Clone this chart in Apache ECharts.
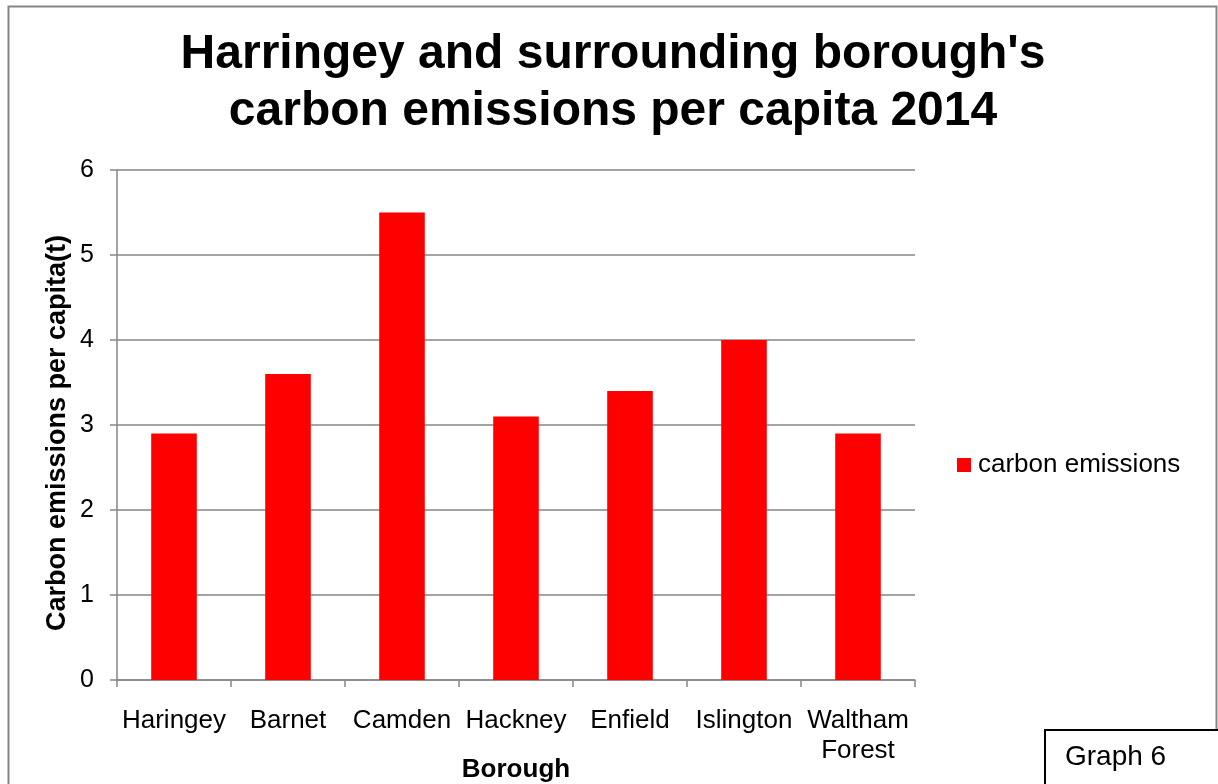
<!DOCTYPE html>
<html>
<head>
<meta charset="utf-8">
<script src="https://cdn.jsdelivr.net/npm/echarts@6/dist/echarts.min.js"></script>
<style>
  html, body { margin: 0; padding: 0; background: #fff; }
  #chart { width: 1218px; height: 784px; }
</style>
</head>
<body>
<div id="chart"></div>
<script>
// Boroughs and per-capita carbon emissions (tonnes), 2014
const boroughs = ['Haringey', 'Barnet', 'Camden', 'Hackney', 'Enfield', 'Islington', 'Waltham\nForest'];
const emissions = [2.9, 3.6, 5.5, 3.1, 3.4, 4.0, 2.9];
const seriesName = 'carbon emissions';
const yTicks = { min: 0, max: 6, interval: 1 };

const FONT = '"Liberation Sans", Arial, sans-serif';
const chart = echarts.init(document.getElementById('chart'), null, { renderer: 'canvas' });

chart.setOption({
  backgroundColor: '#fff',
  animation: false,
  title: {
    text: "Harringey and surrounding borough's\ncarbon emissions per capita 2014",
    left: 613,
    top: 26,
    textAlign: 'center',
    padding: 0,
    textStyle: { fontFamily: FONT, fontWeight: 'bold', fontSize: 48, lineHeight: 57, color: '#000' }
  },
  legend: {
    data: [seriesName],
    orient: 'vertical',
    left: 957,
    top: 452,
    padding: 0,
    itemWidth: 14,
    itemHeight: 14,
    icon: 'rect',
    textStyle: { fontFamily: FONT, fontSize: 26, color: '#000', padding: [0, 0, 0, 2] }
  },
  grid: { left: 117, right: 303, top: 170, bottom: 104, outerBoundsMode: 'none', containLabel: false },
  xAxis: {
    type: 'category',
    data: boroughs,
    name: 'Borough',
    nameLocation: 'middle',
    nameGap: 77,
    nameMoveOverlap: false,
    nameTextStyle: { fontFamily: FONT, fontWeight: 'bold', fontSize: 26, color: '#000', verticalAlign: 'top' },
    axisLine: { lineStyle: { color: '#868686', width: 1.5 } },
    axisTick: { show: true, alignWithLabel: false, length: 7, lineStyle: { color: '#868686', width: 1.5 } },
    axisLabel: { fontFamily: FONT, fontSize: 26, color: '#000', margin: 26, lineHeight: 30, interval: 0, verticalAlign: 'top' }
  },
  yAxis: {
    type: 'value',
    min: yTicks.min,
    max: yTicks.max,
    interval: yTicks.interval,
    name: 'Carbon emissions per capita(t)',
    nameLocation: 'middle',
    nameGap: 46,
    nameMoveOverlap: false,
    nameTextStyle: { fontFamily: FONT, fontWeight: 'bold', fontSize: 27, color: '#000', padding: [0, 16, 0, 0] },
    axisLine: { show: true, lineStyle: { color: '#868686', width: 1.5 } },
    axisTick: { show: true, inside: false, length: 7, lineStyle: { color: '#868686', width: 1.5 } },
    axisLabel: { fontFamily: FONT, fontSize: 25, color: '#000', margin: 23 },
    splitLine: { show: true, lineStyle: { color: '#868686', width: 1.5 } }
  },
  series: [{
    name: seriesName,
    type: 'bar',
    data: emissions,
    barCategoryGap: '60%',
    itemStyle: { color: '#FF0000' }
  }],
  graphic: [
    {
      type: 'rect',
      shape: { x: 8.5, y: 6.5, width: 1208, height: 800 },
      style: { fill: null, stroke: '#868686', lineWidth: 2 },
      silent: true,
      z: -1
    },
    {
      type: 'rect',
      shape: { x: 1045, y: 730, width: 180, height: 80 },
      style: { fill: '#fff', stroke: '#000', lineWidth: 2 },
      z: 10
    },
    {
      type: 'text',
      x: 1065,
      y: 743,
      style: { text: 'Graph 6', fontFamily: FONT, fontSize: 28, fill: '#000' },
      z: 11
    }
  ]
});
</script>
</body>
</html>
